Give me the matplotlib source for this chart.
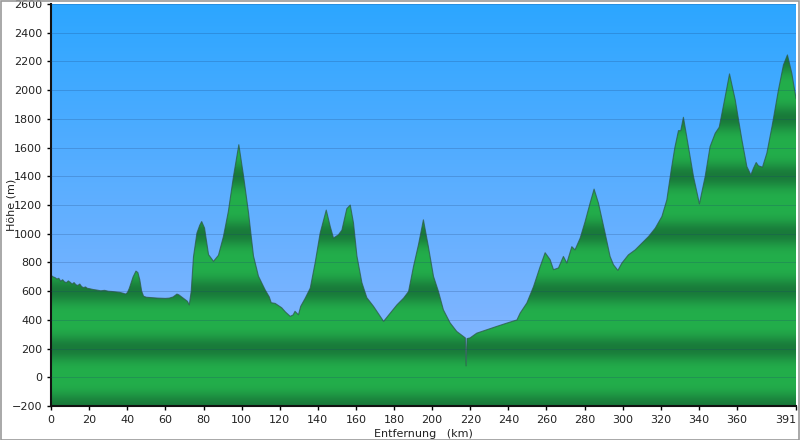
import matplotlib
matplotlib.use("Agg")
import matplotlib.pyplot as plt
import numpy as np
from matplotlib.patches import Polygon, Rectangle
from matplotlib.colors import to_rgb

# elevation profile (km, m)
km = [0, 1, 2, 3, 4, 5, 6, 7, 8, 9, 10, 11, 12, 13, 14, 15, 16, 17, 18, 19, 20,
      22, 24, 26, 28, 30, 32, 34, 36, 38, 39, 40, 41, 42, 43, 44.5, 45.5, 46.5,
      47.5, 48.5, 50, 53, 56, 60, 62, 64, 66, 67, 68, 70, 71.5, 72.5, 73.5, 74.7,
      76.5, 78, 79, 80.5, 82.6, 85.2, 87.8, 90.4, 93, 95.7, 98.5, 101, 103.6,
      106.2, 108.8, 112.3, 114.5, 115.5, 117.6, 121, 123, 125.5, 127, 128, 129.8,
      131, 133.3, 136, 138.6, 141.2, 144.4, 146.5, 148.2, 150.8, 152.6, 155.2,
      157, 158.7, 160.5, 163.1, 165.7, 169.2, 172.7, 174.5, 178, 181.5, 185,
      187.6, 190.2, 192.8, 195.4, 198, 200.7, 203.3, 205.9, 209.4, 212.9, 216.4,
      217.4, 217.8, 218.3, 219.9, 223.4, 228.7, 233.9, 239.2, 244.5, 246.2,
      249.7, 253.2, 256.7, 259.3, 261.9, 263.7, 266.3, 268.9, 270.7, 273.3, 275,
      277.7, 280.3, 282.9, 285, 287.3, 290.8, 293.4, 295.2, 297.5, 299.6, 303,
      306.6, 310.1, 313.6, 317.1, 320.6, 323.2, 325.5, 327.4, 329.3, 330.5,
      331.9, 334.5, 337.2, 340.3, 343.3, 345.9, 348.6, 350.7, 353.5, 356.1,
      359.1, 362.6, 365.2, 367.3, 368.7, 370.1, 371.3, 373.4, 375.7, 378.4,
      381.8, 384.4, 386.5, 388.8, 391]
elev = [710, 700, 695, 685, 690, 670, 680, 665, 660, 672, 662, 650, 660, 645,
        640, 650, 632, 625, 630, 620, 618, 612, 608, 603, 606, 600, 598, 595, 592,
        585, 580, 590, 620, 660, 700, 740, 730, 680, 600, 565, 558, 555, 552, 550,
        552, 560, 580, 575, 565, 545, 530, 505, 600, 840, 1005, 1060, 1085, 1040,
        855, 808, 850, 980, 1155, 1400, 1620, 1400, 1145, 845, 705, 610, 560, 520,
        515, 485, 455, 425, 435, 460, 436, 495, 550, 622, 800, 1005, 1165, 1050,
        970, 993, 1025, 1175, 1200, 1075, 845, 660, 555, 495, 425, 390, 448, 505,
        552, 598, 772, 923, 1097, 911, 703, 598, 470, 380, 320, 285, 275, 80, 270,
        275, 308, 332, 355, 378, 400, 448, 518, 632, 772, 868, 820, 750, 762, 842,
        796, 910, 888, 970, 1085, 1213, 1311, 1213, 1004, 842, 784, 745, 796, 853,
        888, 935, 981, 1039, 1120, 1236, 1445, 1600, 1718, 1718, 1811, 1607, 1398,
        1208, 1398, 1607, 1700, 1742, 1932, 2113, 1932, 1654, 1468, 1410, 1457,
        1496, 1473, 1464, 1561, 1746, 2002, 2175, 2245, 2118, 1944]

x_ticks = [0, 20, 40, 60, 80, 100, 120, 140, 160, 180, 200, 220, 240, 260, 280,
           300, 320, 340, 360, 391]
y_ticks = list(range(-200, 2601, 200))

fig = plt.figure(figsize=(8, 4.4), dpi=100)
ax = fig.add_axes([0.064, 0.077, 0.931, 0.914])
ax.set_xlim(0, 391)
ax.set_ylim(-200, 2600)

# sky gradient
top = np.array(to_rgb("#2ca6ff"))
bot = np.array(to_rgb("#93b8ff"))
t = np.linspace(0, 1, 256)[:, None]
sky = top * (1 - t) + bot * t
ax.imshow(sky[:, None, :], extent=[0, 391, -200, 2600], aspect="auto",
          zorder=0, interpolation="bilinear")

# banded green fill, dark bands at 200 + 400k
e = np.linspace(2600, -200, 1400)
w = (0.5 + 0.5 * np.cos(2 * np.pi * (e - 200) / 400)) ** 2
light = np.array(to_rgb("#23ae4b"))
dark = np.array(to_rgb("#197a3a"))
green = light * (1 - w[:, None]) + dark * w[:, None]
img = ax.imshow(green[:, None, :], extent=[0, 391, -200, 2600], aspect="auto",
                zorder=1, interpolation="bilinear")
verts = [(0, -200)] + list(zip(km, elev)) + [(391, -200)]
poly = Polygon(verts, closed=True, facecolor="none", edgecolor="none")
ax.add_patch(poly)
img.set_clip_path(poly)

ax.plot(km, elev, color="#2d5a48", lw=0.8, alpha=0.75, zorder=2)

for y in y_ticks:
    ax.axhline(y, color="#1a3a70", lw=0.7, alpha=0.22, zorder=3)

ax.set_xticks(x_ticks)
ax.set_yticks(y_ticks)
ax.tick_params(labelsize=8, length=3, width=1, color="black", labelcolor="#222222")
ax.get_xticklabels()[-1].set_horizontalalignment("right")
for s in ["top", "right"]:
    ax.spines[s].set_visible(False)
for s in ["left", "bottom"]:
    ax.spines[s].set_linewidth(1.5)
    ax.spines[s].set_color("#111111")

ax.set_ylabel("Höhe (m)", fontsize=8, color="#222222")
ax.yaxis.set_label_coords(-0.047, 0.5)
ax.set_xlabel("Entfernung   (km)", fontsize=8, color="#222222", labelpad=3)

fig.patches.append(Rectangle((0.001, 0.001), 0.998, 0.997, transform=fig.transFigure,
                             fill=False, edgecolor="#999999", lw=1.2))

fig.savefig("out.png", dpi=100)
